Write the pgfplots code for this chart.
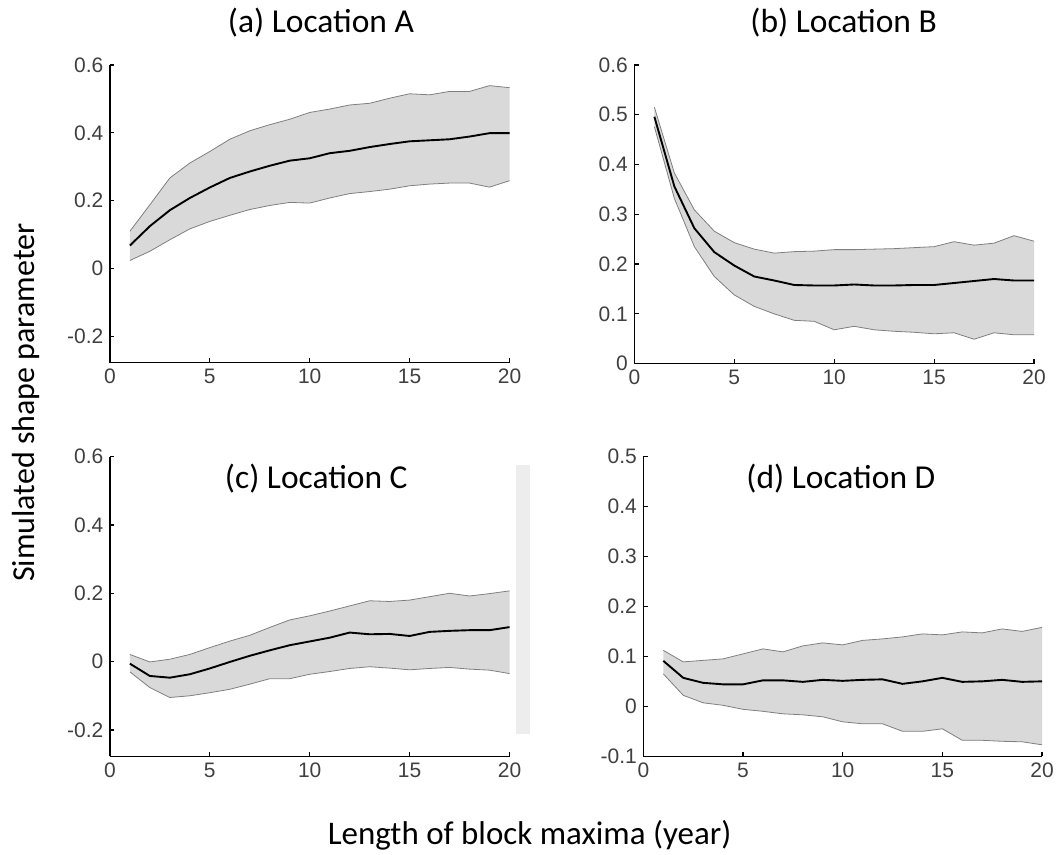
\documentclass[border=0pt]{standalone}
\usepackage{fontspec}
\setmainfont{Carlito}
\newfontfamily\tickfont{Liberation Sans}
\usepackage{pgfplots}
\usepackage{pgfplotstable}
\pgfplotsset{compat=1.18}
\usepgfplotslibrary{fillbetween}
\definecolor{bandfill}{HTML}{D9D9D9}
\definecolor{bandline}{HTML}{7F7F7F}
\definecolor{tickgray}{HTML}{404040}

\pgfplotstableread{
x lo mean hi
1 0.024 0.068 0.110
2 0.051 0.125 0.188
3 0.085 0.172 0.267
4 0.117 0.208 0.311
5 0.139 0.239 0.345
6 0.157 0.267 0.381
7 0.174 0.286 0.406
8 0.186 0.303 0.424
9 0.195 0.318 0.440
10 0.193 0.325 0.460
11 0.208 0.340 0.470
12 0.221 0.347 0.482
13 0.227 0.358 0.487
14 0.234 0.367 0.502
15 0.244 0.375 0.515
16 0.249 0.378 0.512
17 0.252 0.381 0.522
18 0.252 0.389 0.522
19 0.240 0.399 0.539
20 0.259 0.399 0.533
}\dataA

\pgfplotstableread{
x lo mean hi
1 0.476 0.496 0.515
2 0.332 0.356 0.383
3 0.235 0.272 0.309
4 0.175 0.224 0.266
5 0.138 0.197 0.243
6 0.115 0.175 0.230
7 0.100 0.167 0.222
8 0.087 0.158 0.225
9 0.085 0.157 0.226
10 0.068 0.157 0.229
11 0.075 0.159 0.229
12 0.068 0.157 0.230
13 0.065 0.157 0.231
14 0.063 0.158 0.233
15 0.060 0.158 0.235
16 0.062 0.162 0.245
17 0.049 0.166 0.238
18 0.062 0.170 0.242
19 0.058 0.167 0.257
20 0.058 0.167 0.246
}\dataB

\pgfplotstableread{
x lo mean hi
1 -0.030 -0.006 0.021
2 -0.076 -0.042 -0.001
3 -0.105 -0.047 0.007
4 -0.100 -0.037 0.021
5 -0.091 -0.020 0.041
6 -0.081 -0.001 0.060
7 -0.066 0.017 0.077
8 -0.050 0.033 0.100
9 -0.050 0.048 0.122
10 -0.037 0.059 0.134
11 -0.029 0.070 0.148
12 -0.020 0.085 0.163
13 -0.015 0.080 0.178
14 -0.019 0.081 0.176
15 -0.024 0.075 0.180
16 -0.020 0.087 0.190
17 -0.017 0.090 0.200
18 -0.022 0.092 0.192
19 -0.025 0.092 0.199
20 -0.035 0.101 0.207
}\dataC

\pgfplotstableread{
x lo mean hi
1 0.065 0.091 0.112
2 0.022 0.057 0.089
3 0.007 0.047 0.092
4 0.002 0.044 0.095
5 -0.006 0.044 0.105
6 -0.010 0.052 0.115
7 -0.015 0.052 0.109
8 -0.017 0.049 0.121
9 -0.021 0.053 0.127
10 -0.031 0.051 0.123
11 -0.035 0.053 0.132
12 -0.035 0.054 0.135
13 -0.050 0.045 0.139
14 -0.050 0.050 0.145
15 -0.045 0.057 0.143
16 -0.068 0.049 0.149
17 -0.068 0.050 0.147
18 -0.070 0.053 0.155
19 -0.071 0.049 0.150
20 -0.077 0.050 0.158
}\dataD

\pgfplotsset{
  panel/.style={
    scale only axis, width=400pt,
    xmin=0, xmax=20, xtick={0,5,10,15,20}, xticklabels={0,5,10,15,20},
    axis lines=left, axis line style={-, line width=1.5pt, black},
    tick align=inside, major tick length=4.5pt,
    tick style={black, line width=1.2pt},
    tick label style={font=\fontsize{21}{21}\selectfont\tickfont, text=tickgray},
    xticklabel style={yshift=-3pt},
    yticklabel style={xshift=-3pt},
    anchor=south west,
  },
  meanline/.style={black, line width=1.9pt},
  bound/.style={bandline, line width=0.8pt},
}

\begin{document}
\begin{tikzpicture}

% (a)
\begin{axis}[panel, at={(110pt,492pt)}, height=298pt,
  ymin=-0.277, ymax=0.6,
  ytick={-0.2,0,0.2,0.4,0.6}, yticklabels={-0.2,0,0.2,0.4,0.6}]
  \addplot[draw=none, name path=hiA] table[x=x, y=hi] {\dataA};
  \addplot[draw=none, name path=loA] table[x=x, y=lo] {\dataA};
  \addplot[bandfill, draw=none] fill between[of=hiA and loA];
  \addplot[bound] table[x=x, y=hi] {\dataA};
  \addplot[bound] table[x=x, y=lo] {\dataA};
  \addplot[meanline] table[x=x, y=mean] {\dataA};
\end{axis}

% (b)
\begin{axis}[panel, at={(635pt,491pt)}, height=299pt,
  ymin=0, ymax=0.6,
  ytick={0,0.1,0.2,0.3,0.4,0.5,0.6}, yticklabels={0,0.1,0.2,0.3,0.4,0.5,0.6}]
  \addplot[draw=none, name path=hiB] table[x=x, y=hi] {\dataB};
  \addplot[draw=none, name path=loB] table[x=x, y=lo] {\dataB};
  \addplot[bandfill, draw=none] fill between[of=hiB and loB];
  \addplot[bound] table[x=x, y=hi] {\dataB};
  \addplot[bound] table[x=x, y=lo] {\dataB};
  \addplot[meanline] table[x=x, y=mean] {\dataB};
\end{axis}

% (c)
\begin{axis}[panel, at={(110pt,98pt)}, height=300pt,
  ymin=-0.277, ymax=0.6,
  ytick={-0.2,0,0.2,0.4,0.6}, yticklabels={-0.2,0,0.2,0.4,0.6}]
  \addplot[draw=none, name path=hiC] table[x=x, y=hi] {\dataC};
  \addplot[draw=none, name path=loC] table[x=x, y=lo] {\dataC};
  \addplot[bandfill, draw=none] fill between[of=hiC and loC];
  \addplot[bound] table[x=x, y=hi] {\dataC};
  \addplot[bound] table[x=x, y=lo] {\dataC};
  \addplot[meanline] table[x=x, y=mean] {\dataC};
\end{axis}

% (d)
\begin{axis}[panel, at={(644pt,98pt)}, width=399pt, height=300pt,
  ymin=-0.1, ymax=0.5,
  ytick={-0.1,0,0.1,0.2,0.3,0.4,0.5}, yticklabels={-0.1,0,0.1,0.2,0.3,0.4,0.5}]
  \addplot[draw=none, name path=hiD] table[x=x, y=hi] {\dataD};
  \addplot[draw=none, name path=loD] table[x=x, y=lo] {\dataD};
  \addplot[bandfill, draw=none] fill between[of=hiD and loD];
  \addplot[bound] table[x=x, y=hi] {\dataD};
  \addplot[bound] table[x=x, y=lo] {\dataD};
  \addplot[meanline] table[x=x, y=mean] {\dataD};
\end{axis}

% stray light-grey strip in the original figure
\fill[black!7] (516pt,120pt) rectangle (531pt,390pt);

% titles
\node[anchor=base west, inner sep=0pt, font=\fontsize{33.5}{33.5}\selectfont] at (228pt,822pt) {(a) Location A};
\node[anchor=base west, inner sep=0pt, font=\fontsize{33.5}{33.5}\selectfont] at (751pt,822pt) {(b) Location B};
\node[anchor=base west, inner sep=0pt, font=\fontsize{33.5}{33.5}\selectfont] at (225pt,366pt) {(c) Location C};
\node[anchor=base west, inner sep=0pt, font=\fontsize{33.5}{33.5}\selectfont] at (747pt,366pt) {(d) Location D};

% axis labels
\node[anchor=base, inner sep=0pt, rotate=90, font=\fontsize{32}{32}\selectfont] at (35pt,452pt) {Simulated shape parameter};
\node[anchor=base west, inner sep=0pt, font=\fontsize{33}{33}\selectfont] at (328pt,10pt) {Length of block maxima (year)};

\path (0pt,0pt) rectangle (1057pt,855pt);
\end{tikzpicture}
\end{document}
